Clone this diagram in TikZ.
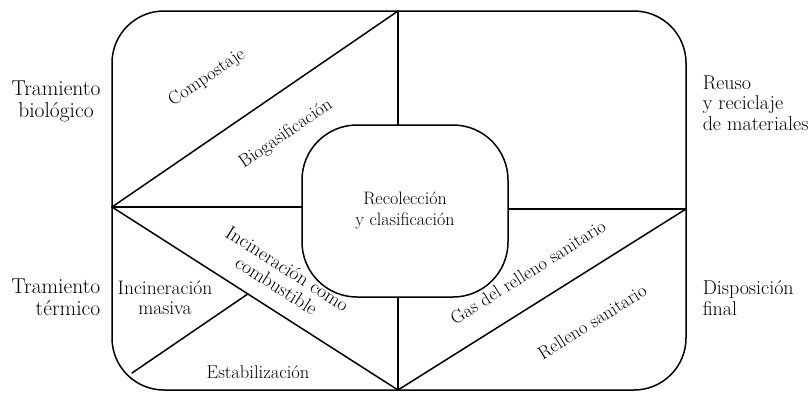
\documentclass[tikz,border=0pt]{standalone}
\usepackage{fontspec}
\usetikzlibrary{calc}
\begin{document}
\begin{tikzpicture}[x=1pt,y=-1pt, line width=1.5pt, line cap=round, line join=round,
  lbl/.style={font=\fontsize{18.5}{20}\selectfont, inner sep=0pt, align=center},
  side/.style={font=\fontsize{20}{20.5}\selectfont, inner sep=0pt},
  lside/.style={font=\fontsize{21.5}{22}\selectfont, inner sep=0pt}]
\useasboundingbox (0,0) rectangle (812,392);
% frames
\node[draw, rounded corners=52pt, minimum width=574pt, minimum height=379pt, inner sep=0pt] (outer) at (399,200.5) {};
\node[draw, rounded corners=55pt, minimum width=206pt, minimum height=172pt, lbl, font=\fontsize{18}{21}\selectfont] (inner) at (405,211) {Recolección\\y clasificación};
% key points
\coordinate (T) at (398,11);
\coordinate (L) at (112,207);
\coordinate (B) at (398,390);
\coordinate (R) at (686,209);
\coordinate (IT) at (T |- inner.north);
\coordinate (IB) at (T |- inner.south);
\coordinate (IL) at (inner.west |- L);
\coordinate (IR) at (inner.east |- R);
\coordinate (BL) at (132,373);
\coordinate (M) at ($(L)!0.475!(B)$);
% dividing lines
\draw (T) -- (IT);
\draw (T) -- (L);
\draw (L) -- (IL);
\draw (L) -- (B);
\draw (BL) -- (M);
\draw (IB) -- (B);
\draw (IR) -- (R);
\draw (R) -- (B);
% sector labels
\node[lbl, rotate=34.5] (compost) at (207,78) {Compostaje};
\node[lbl, rotate=34.5] (biogas) at (286,134) {Biogasificación};
\node[lbl, rotate=-32.6, font=\fontsize{19.5}{20}\selectfont] (incomb) at (282,277) {Incineración como\\combustible};
\node[lbl, font=\fontsize{19.5}{20}\selectfont] (incmas) at (165,298) {Incineración\\masiva};
\node[lbl] (estab) at (258,372) {Estabilización};
\node[lbl, rotate=32.2] (gas) at (528,272) {Gas del relleno sanitario};
\node[lbl, rotate=32.2] (relleno) at (592,322) {Relleno sanitario};
% side labels
\node[lside, align=center] (bio) at (56,101) {Tramiento\\biológico};
\node[side, align=left, anchor=west] (reuso) at (702,103) {Reuso\\y reciclaje\\de materiales};
\node[lside, align=right, anchor=east] (term) at (101,297) {Tramiento\\térmico};
\node[side, align=left, anchor=west] (disp) at (702,298) {Disposición\\final};
\end{tikzpicture}
\end{document}
